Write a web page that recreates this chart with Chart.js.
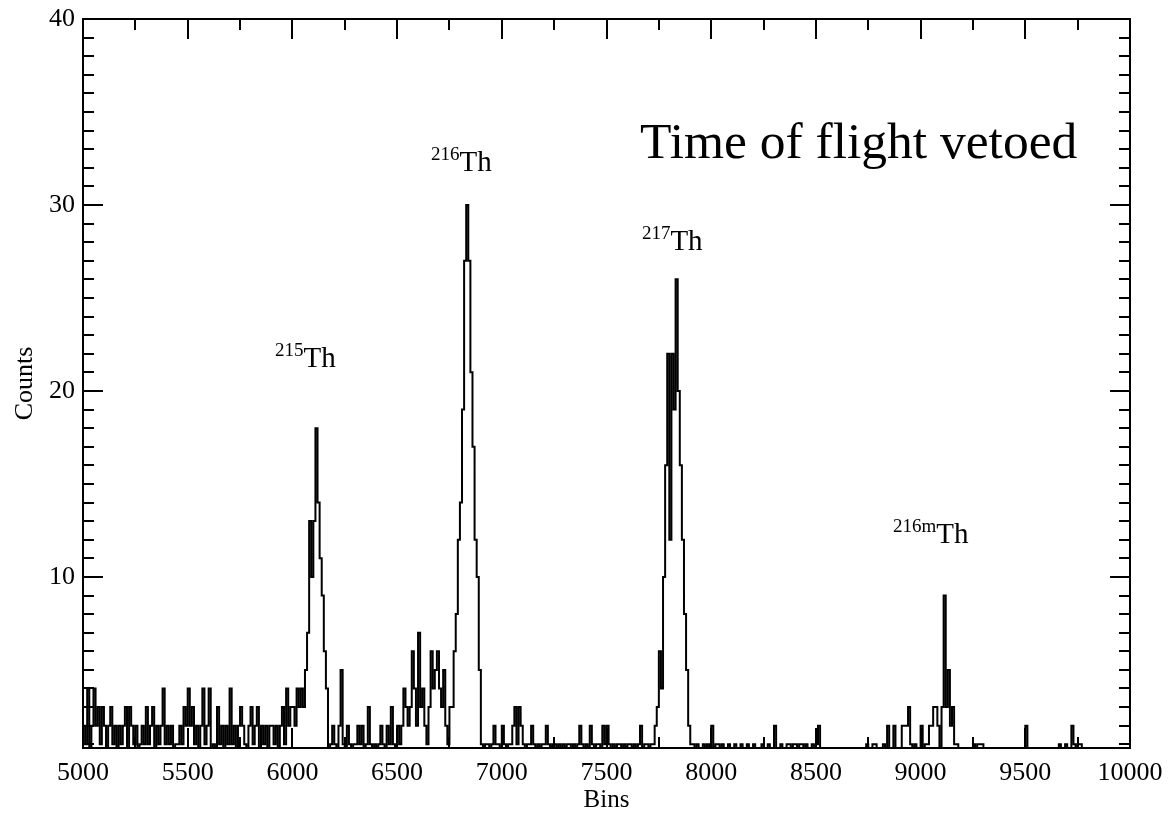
<!DOCTYPE html>
<html>
<head>
<meta charset="utf-8">
<script src="https://cdn.jsdelivr.net/npm/chart.js@4.4.1/dist/chart.umd.min.js"></script>
<style>
  html, body { margin: 0; padding: 0; background: #fff; }
  #c { display: block; }
</style>
</head>
<body>
<canvas id="c" width="1170" height="815"></canvas>
<script>
// --- histogram: 10 bins wide, starting at 5000
const binStart = 5000;
const binWidth = 10;

const counts5000 = [
  2,1,4,0,2,4,2,3,1,3, 2,0,2,3,1,2,0,2,1,2, 3,0,3,2,1,2,0,1,2,1, 3,1,2,3,0,2,1,2,4,1,
  2,1,2,0,1,1,2,1,3,2, 4,2,3,1,2,0,2,4,1,2, 4,0,1,0,3,1,2,0,2,1, 4,1,2,0,2,3,2,1,0,2,
  3,1,2,3,0,2,1,2,0,2, 2,1,2,0,2,3,1,4,2,3
];
const counts6000 = [
  3,2,4,3,4,3,5,7,13,10, 13,18,14,11,9,6,4,0,1,2, 1,0,2,5,1,0,2,1,0,1, 1,2,1,2,0,1,3,1,0,1,
  0,1,2,1,0,2,1,3,1,0, 2,1,2,4,3,2,3,6,4,2, 7,3,4,2,1,3,6,4,5,6, 4,3,5,2,1,3,3,6,8,12,
  14,19,27,30,27,21,17,12,10,5, 1,0,1,1,0,1,2,1,1,0
];
const counts7000 = [
  2,1,0,1,1,2,3,1,3,2, 1,0,1,1,2,1,0,1,0,1, 1,2,1,0,1,1,0,1,0,1, 0,1,1,0,1,0,1,2,1,0,
  1,0,2,1,0,1,1,0,2,1, 2,1,0,1,0,1,1,0,1,0, 1,1,0,1,0,1,2,0,1,1, 0,1,1,2,3,6,4,10,16,22,
  12,22,19,26,20,16,12,8,5,2, 1,1,0,1,0,0,1,0,1,0
];
const counts8000 = [
  2,0,1,1,0,1,0,0,1,0, 0,1,0,0,1,0,0,1,0,0, 1,0,0,0,1,0,0,1,0,0, 2,0,0,1,0,0,1,1,0,1,
  1,0,1,1,0,1,0,0,1,0, 1,2,0,0,0,0,0,0,0,0, 0,0,0,0,0,0,0,0,0,0, 0,0,0,0,1,0,0,1,1,0,
  0,0,1,0,2,0,0,2,0,0, 0,2,2,2,3,1,0,1,0,0
];
const counts9000 = [
  2,0,1,1,2,2,3,3,2,0, 3,9,3,5,2,3,1,1,0,0, 0,0,0,0,0,1,0,1,1,1, 0,0,0,0,0,0,0,0,0,0,
  0,0,0,0,0,0,0,0,0,0, 2,0,0,0,0,0,0,0,0,0, 0,0,0,0,0,0,1,0,0,1, 0,0,2,1,0,1,1,0,0,0,
  0,0,0,0,0,0,0,0,0,0, 0,0,0,0,0,0,0,0,0,0
];

// axis ranges and tick labels
const xMin = 5000, xMax = 10000;
const yMin = 0.8, yMax = 40;
const xTicks = [5000, 5500, 6000, 6500, 7000, 7500, 8000, 8500, 9000, 9500, 10000];
const yTicks = [10, 20, 30, 40];

// peak labels (mass number as superscript)
const peakLabels = [
  { sup: "215",  x: 5917, y: 21.3 },
  { sup: "216",  x: 6662, y: 31.8 },
  { sup: "217",  x: 7669, y: 27.6 },
  { sup: "216m", x: 8868, y: 11.8 }
];
const note = { text: "Time of flight vetoed", x: 7660, y: 32.55 };

const SERIF = '"Liberation Serif", "Times New Roman", serif';

const counts = [...counts5000, ...counts6000, ...counts7000, ...counts8000, ...counts9000];
const points = counts.map((c, i) => ({ x: binStart + i * binWidth, y: c }));
points.push({ x: binStart + counts.length * binWidth, y: counts[counts.length - 1] });

// box frame + inward ticks on all four sides
const frameTicks = {
  id: "frameTicks",
  afterDatasetsDraw(chart) {
    const { ctx, chartArea: a, scales: { x, y } } = chart;
    const major = 20, minor = 11;
    ctx.save();
    ctx.strokeStyle = "#000";
    ctx.lineWidth = 2;
    ctx.beginPath();
    for (let v = xMin; v <= xMax; v += 250) {
      const px = Math.round(x.getPixelForValue(v));
      const len = v % 500 === 0 ? major : minor;
      ctx.moveTo(px, a.bottom); ctx.lineTo(px, a.bottom - len);
      ctx.moveTo(px, a.top); ctx.lineTo(px, a.top + len);
    }
    for (let v = Math.ceil(yMin); v <= yMax; v += 1) {
      const py = Math.round(y.getPixelForValue(v));
      const len = v % 10 === 0 ? major : minor;
      ctx.moveTo(a.left, py); ctx.lineTo(a.left + len, py);
      ctx.moveTo(a.right, py); ctx.lineTo(a.right - len, py);
    }
    ctx.stroke();
    ctx.strokeRect(a.left, a.top, a.right - a.left, a.bottom - a.top);
    ctx.restore();
  }
};

// isotope labels and the big note
const labels = {
  id: "labels",
  afterDraw(chart) {
    const { ctx, scales: { x, y } } = chart;
    ctx.save();
    ctx.fillStyle = "#000";
    ctx.textAlign = "left";
    ctx.textBaseline = "alphabetic";
    peakLabels.forEach(p => {
      const px = x.getPixelForValue(p.x);
      const py = y.getPixelForValue(p.y);
      ctx.font = "19px " + SERIF;
      ctx.fillText(p.sup, px, py - 11);
      const w = ctx.measureText(p.sup).width;
      ctx.font = "29px " + SERIF;
      ctx.fillText("Th", px + w, py);
    });
    ctx.font = "51.5px " + SERIF;
    ctx.fillText(note.text, x.getPixelForValue(note.x), y.getPixelForValue(note.y));
    ctx.restore();
  }
};

// keep the plot box fixed: tick labels may hang over the edges
function fixX(s) { s.height = 67; s.paddingLeft = 0; s.paddingRight = 0; }
function fixY(s) { s.width = 83; s.paddingTop = 0; s.paddingBottom = 0; }

new Chart(document.getElementById("c"), {
  type: "line",
  data: {
    datasets: [{
      data: points,
      stepped: "before",
      borderColor: "#000",
      borderWidth: 2,
      pointRadius: 0,
      fill: false
    }]
  },
  options: {
    responsive: false,
    animation: false,
    layout: { padding: { left: 0, right: 40, top: 19, bottom: 0 } },
    plugins: { legend: { display: false }, tooltip: { enabled: false } },
    scales: {
      x: {
        type: "linear",
        min: xMin, max: xMax,
        afterFit: fixX,
        afterBuildTicks: s => { s.ticks = xTicks.map(v => ({ value: v })); },
        grid: { display: false, drawTicks: false },
        border: { display: false },
        ticks: { color: "#000", font: { family: SERIF, size: 26 }, padding: 10, maxRotation: 0, autoSkip: false, callback: v => String(v) },
        title: { display: true, text: "Bins", color: "#000", font: { family: SERIF, size: 25 }, padding: { top: 0, bottom: 0 } }
      },
      y: {
        type: "linear",
        min: yMin, max: yMax,
        afterFit: fixY,
        afterBuildTicks: s => { s.ticks = yTicks.map(v => ({ value: v })); },
        grid: { display: false, drawTicks: false },
        border: { display: false },
        ticks: { color: "#000", font: { family: SERIF, size: 26 }, padding: 8, callback: v => String(v) },
        title: { display: true, text: "Counts", color: "#000", font: { family: SERIF, size: 26 }, padding: { top: 10, bottom: 0 } }
      }
    }
  },
  plugins: [frameTicks, labels]
});
</script>
</body>
</html>
